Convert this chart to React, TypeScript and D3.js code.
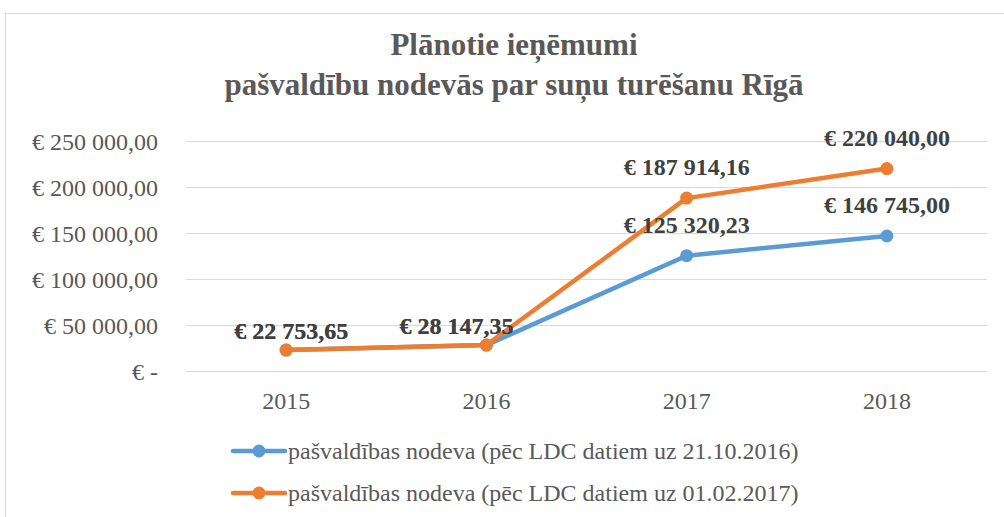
import React, { useEffect, useRef } from "react"
import * as d3 from "d3"

const years = ["2015", "2016", "2017", "2018"]
const seriesNames = [
  "pašvaldības nodeva (pēc LDC datiem uz 21.10.2016)",
  "pašvaldības nodeva (pēc LDC datiem uz 01.02.2017)",
]
const blueValues = [22753.65, 28147.35, 125320.23, 146745.0]
const orangeValues = [22753.65, 28147.35, 187914.16, 220040.0]
const yTicks = [0, 50000, 100000, 150000, 200000, 250000]
const titleLines = ["Plānotie ieņēmumi", "pašvaldību nodevās par suņu turēšanu Rīgā"]

const colors = ["#5B9BD5", "#ED7D31"]
// label nudges (Excel moved the first two labels)
const labelShift = [
  { dx: 5, dy: -11 },
  { dx: -30, dy: -11 },
  { dx: 0, dy: -23 },
  { dx: 0, dy: -23 },
]

const locale = d3.formatLocale({
  decimal: ",",
  thousands: " ",
  grouping: [3],
  currency: ["€ ", ""],
})
const fmt = locale.format("$,.2f")
const euro = (v: number) => (v === 0 ? "€ -" : fmt(v))

export default function App() {
  const ref = useRef<SVGSVGElement>(null)

  useEffect(() => {
    const svg = d3.select(ref.current)
    svg.selectAll("*").remove()

    const width = 1004
    const height = 517
    const left = 186
    const right = 987
    const top = 141
    const bottom = 371
    const font = "'Liberation Serif', 'Times New Roman', serif"

    // chart frame
    svg.append("rect")
      .attr("x", 5.5).attr("y", 13.5)
      .attr("width", width + 10).attr("height", height)
      .attr("fill", "white").attr("stroke", "#d9d9d9")

    const title = svg.append("text")
      .attr("text-anchor", "middle")
      .attr("font-family", font)
      .attr("font-weight", "bold")
      .attr("font-size", 31)
      .attr("fill", "#595959")
    titleLines.forEach((t, i) => {
      title.append("tspan").attr("x", 514).attr("y", 55 + i * 40).text(t)
    })

    const x = d3.scaleBand().domain(years).range([left, right])
    const y = d3.scaleLinear().domain([0, 250000]).range([bottom, top])

    const grid = svg.append("g")
    grid.selectAll("line").data(yTicks).enter().append("line")
      .attr("x1", left).attr("x2", right)
      .attr("y1", d => Math.round(y(d)) + 0.5)
      .attr("y2", d => Math.round(y(d)) + 0.5)
      .attr("stroke", "#d9d9d9").attr("stroke-width", 1)

    svg.append("g").selectAll("text").data(yTicks).enter().append("text")
      .attr("x", 158).attr("y", d => y(d) + 9)
      .attr("text-anchor", "end")
      .attr("font-family", font).attr("font-size", 24)
      .attr("fill", "#595959")
      .text(d => euro(d))

    svg.append("g").selectAll("text").data(years).enter().append("text")
      .attr("x", d => x(d)! + x.bandwidth() / 2)
      .attr("y", 409)
      .attr("text-anchor", "middle")
      .attr("font-family", font).attr("font-size", 24)
      .attr("fill", "#595959")
      .text(d => d)

    const line = d3.line<number>()
      .x((_, i) => x(years[i])! + x.bandwidth() / 2)
      .y(d => y(d))

    const allSeries = [blueValues, orangeValues]
    allSeries.forEach((vals, s) => {
      const g = svg.append("g")
      g.append("path")
        .datum(vals)
        .attr("d", line)
        .attr("fill", "none")
        .attr("stroke", colors[s])
        .attr("stroke-width", 4.5)
        .attr("stroke-linejoin", "round")
      g.selectAll("circle").data(vals).enter().append("circle")
        .attr("cx", (_, i) => x(years[i])! + x.bandwidth() / 2)
        .attr("cy", d => y(d))
        .attr("r", 6.5)
        .attr("fill", colors[s])
    })

    allSeries.forEach(vals => {
      svg.append("g").selectAll("text").data(vals).enter().append("text")
        .attr("x", (_, i) => x(years[i])! + x.bandwidth() / 2 + labelShift[i].dx)
        .attr("y", (d, i) => y(d) + labelShift[i].dy)
        .attr("text-anchor", "middle")
        .attr("font-family", font).attr("font-size", 24)
        .attr("font-weight", "bold")
        .attr("fill", "#404040")
        .text(d => euro(d))
    })

    // legend
    seriesNames.forEach((name, s) => {
      const ly = 451 + s * 42
      const g = svg.append("g")
      g.append("line")
        .attr("x1", 233).attr("x2", 285)
        .attr("y1", ly).attr("y2", ly)
        .attr("stroke", colors[s]).attr("stroke-width", 4.5)
        .attr("stroke-linecap", "round")
      g.append("circle")
        .attr("cx", 259).attr("cy", ly).attr("r", 6.5)
        .attr("fill", colors[s])
      g.append("text")
        .attr("x", 288).attr("y", ly + 8)
        .attr("font-family", font).attr("font-size", 24)
        .attr("fill", "#595959")
        .text(name)
    })
  }, [])

  return (
    <svg
      ref={ref}
      width={1004}
      height={517}
      style={{ position: "absolute", left: 0, top: 0, display: "block" }}
    />
  )
}
